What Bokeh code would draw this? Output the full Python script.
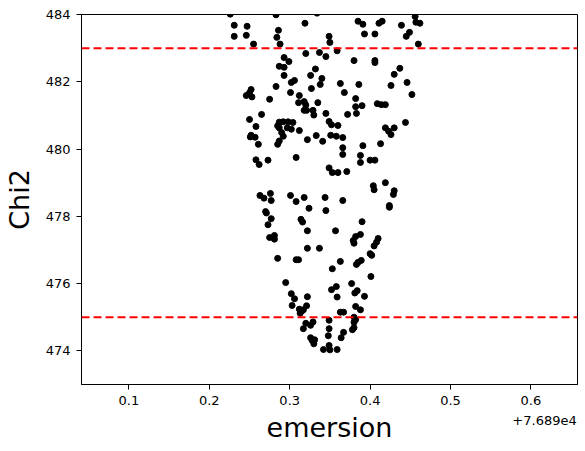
from bokeh.plotting import figure
from bokeh.models import Span, FixedTicker, Range1d, LinearAxis
from bokeh.embed import file_html
from bokeh.resources import INLINE

# emersion values are shown relative to this offset
emersion_offset_text = "+7.689e4"
emersion = [
    0.226, 0.231, 0.247, 0.231, 0.246, 0.255, 0.283, 0.286, 0.284, 0.288,
    0.319, 0.334, 0.349, 0.350, 0.359, 0.320, 0.337, 0.345, 0.293, 0.299,
    0.287, 0.293, 0.332, 0.293, 0.326, 0.340, 0.306, 0.302, 0.338, 0.363,
    0.283, 0.327, 0.252, 0.250, 0.246, 0.253, 0.301, 0.368, 0.312, 0.275,
    0.318, 0.311, 0.335, 0.320, 0.318, 0.321, 0.329, 0.330, 0.345, 0.265,
    0.250, 0.258, 0.287, 0.292, 0.298, 0.304, 0.285, 0.287, 0.297, 0.302,
    0.312, 0.349, 0.352, 0.360, 0.372,
    0.385, 0.391, 0.411, 0.415, 0.439, 0.456, 0.457, 0.462, 0.393, 0.406,
    0.449, 0.445, 0.460, 0.380, 0.406, 0.406, 0.437, 0.430, 0.446, 0.426,
    0.386, 0.452, 0.382, 0.382, 0.390, 0.409, 0.414, 0.419, 0.383, 0.444,
    0.419, 0.430,
    0.290, 0.292, 0.252, 0.257, 0.251, 0.261, 0.287, 0.285, 0.322, 0.333,
    0.341, 0.351, 0.358, 0.366, 0.366, 0.366, 0.258, 0.262, 0.273, 0.308,
    0.349, 0.353, 0.360, 0.371, 0.263, 0.268, 0.276, 0.277, 0.301, 0.308,
    0.318, 0.344, 0.366, 0.324, 0.345, 0.270, 0.271, 0.277, 0.273, 0.314,
    0.316, 0.322, 0.357, 0.275, 0.281, 0.281,
    0.426, 0.423, 0.391, 0.413, 0.388, 0.388, 0.400, 0.406, 0.419, 0.404,
    0.405, 0.430, 0.429, 0.424, 0.424, 0.390, 0.388, 0.382, 0.379, 0.380,
    0.410, 0.408, 0.405,
    0.322, 0.337, 0.285, 0.308, 0.311, 0.353, 0.363, 0.295, 0.302, 0.306,
    0.322, 0.352, 0.358, 0.359, 0.303, 0.321, 0.312, 0.315, 0.317, 0.313,
    0.363, 0.367, 0.320, 0.326, 0.329, 0.317, 0.349, 0.349, 0.348, 0.367,
    0.364, 0.326, 0.328, 0.331, 0.330, 0.342, 0.349, 0.350, 0.359,
    0.400, 0.402, 0.383, 0.385, 0.389, 0.401, 0.377, 0.381, 0.384, 0.393,
    0.382, 0.388, 0.380, 0.382, 0.380, 0.378, 0.380,
]
chi2 = [
    484.01, 483.68, 483.65, 483.35, 483.38, 483.12, 483.99, 483.53, 483.32, 483.12,
    483.74, 484.04, 483.35, 483.17, 482.92, 482.84, 482.87, 482.75, 482.72, 482.60,
    482.46, 482.43, 482.38, 482.19, 482.19, 482.10, 482.04, 481.98, 481.92, 481.95,
    481.86, 481.80, 481.77, 481.67, 481.59, 481.55, 481.68, 481.68, 481.59, 481.48,
    481.41, 481.38, 481.38, 481.31, 481.15, 481.15, 481.15, 481.01, 481.06, 481.03,
    480.88, 480.67, 480.80, 480.81, 480.81, 480.79, 480.69, 480.63, 480.63, 480.59,
    480.55, 480.82, 480.72, 480.70, 481.03,
    483.80, 483.71, 483.74, 483.80, 483.68, 483.94, 483.77, 483.74, 483.42, 483.42,
    483.47, 483.35, 483.12, 482.63, 482.63, 482.57, 482.40, 482.22, 481.98, 481.89,
    481.92, 481.62, 481.50, 481.26, 481.29, 481.35, 481.32, 481.32, 481.06, 480.79,
    480.63, 480.63,
    480.49, 480.38, 480.41, 480.35, 480.36, 480.14, 480.24, 480.14, 480.28, 480.40,
    480.23, 480.41, 480.38, 480.34, 480.04, 479.84, 479.68, 479.54, 479.67, 479.75,
    479.44, 479.30, 479.30, 479.33, 478.62, 478.54, 478.68, 478.47, 478.62, 478.44,
    478.56, 478.56, 478.47, 478.24, 478.17, 478.14, 478.10, 477.93, 477.75, 477.91,
    477.83, 477.57, 477.57, 477.37, 477.43, 477.32,
    480.43, 480.53, 480.10, 480.16, 479.81, 479.60, 479.67, 479.67, 479.00, 478.91,
    478.79, 478.76, 478.65, 478.32, 478.27, 477.84, 477.46, 477.40, 477.28, 477.20,
    477.34, 477.23, 477.12,
    477.05, 477.05, 476.75, 476.71, 476.71, 476.44, 476.66, 476.03, 475.70, 475.55,
    475.61, 475.82, 475.91, 475.60, 475.35, 475.34, 475.24, 475.18, 475.22, 475.12,
    475.15, 475.15, 474.82, 474.76, 474.86, 474.66, 474.91, 474.66, 474.45, 474.55,
    474.39, 474.39, 474.31, 474.33, 474.21, 474.04, 474.16, 474.03, 474.04,
    476.89, 476.84, 476.57, 476.63, 476.69, 476.21, 476.00, 475.72, 475.79, 475.62,
    475.32, 475.22, 475.00, 474.93, 474.85, 474.63, 474.69,
]
chi2_limits = [475.0, 483.0]
x_ticks = [0.1, 0.2, 0.3, 0.4, 0.5, 0.6]
y_ticks = [474, 476, 478, 480, 482, 484]
x_range = (0.041, 0.658)
y_range = (473.0, 484.0)

FONT = "DejaVu Sans"

p = figure(
    frame_width=496, frame_height=370,
    min_border_left=72, min_border_right=1, min_border_top=14, min_border_bottom=50,
    x_range=Range1d(*x_range), y_range=Range1d(*y_range),
    output_backend="svg", toolbar_location=None, tools="",
)
p.background_fill_color = "white"
p.border_fill_color = "white"
p.outline_line_color = "black"
p.outline_line_width = 1
p.outline_line_alpha = 1
p.xgrid.visible = False
p.ygrid.visible = False

for ax in (p.xaxis[0], p.yaxis[0]):
    ax.axis_line_color = "black"
    ax.major_tick_line_color = "black"
    ax.major_tick_out = 5
    ax.major_tick_in = 0
    ax.minor_tick_line_color = None
    ax.major_label_text_font = FONT
    ax.major_label_text_font_size = "13px"
    ax.major_label_text_color = "black"
    ax.axis_label_text_font = FONT
    ax.axis_label_text_font_size = "27px"
    ax.axis_label_text_font_style = "normal"
    ax.axis_label_text_color = "black"

p.xaxis.ticker = FixedTicker(ticks=x_ticks)
p.yaxis.ticker = FixedTicker(ticks=y_ticks)
p.xaxis.major_label_overrides = {t: f"{t:.1f}" for t in x_ticks}
p.xaxis.axis_label = "emersion"
p.yaxis.axis_label = "Chi2"
p.xaxis.axis_label_standoff = 4
p.yaxis.axis_label_standoff = 8
p.xaxis.major_label_standoff = 6
p.yaxis.major_label_standoff = 6

# offset text of the x axis (as in matplotlib's "+7.689e4"), centred under the right end
offset_pos = x_range[1] - 0.041
off_axis = LinearAxis(
    ticker=FixedTicker(ticks=[offset_pos]),
    major_label_overrides={offset_pos: emersion_offset_text},
    axis_line_color=None, major_tick_line_color=None, minor_tick_line_color=None,
    major_tick_out=0, major_tick_in=0, major_label_standoff=-30,
    major_label_text_font=FONT, major_label_text_font_size="13px",
    major_label_text_color="black",
)
p.add_layout(off_axis, "below")

p.scatter(emersion, chi2, size=6, color="black", marker="circle")

for lim in chi2_limits:
    p.add_layout(Span(location=lim, dimension="width", line_color="red",
                      line_width=2, line_dash="8 4"))

open("out.html", "w").write(file_html(p, INLINE))
